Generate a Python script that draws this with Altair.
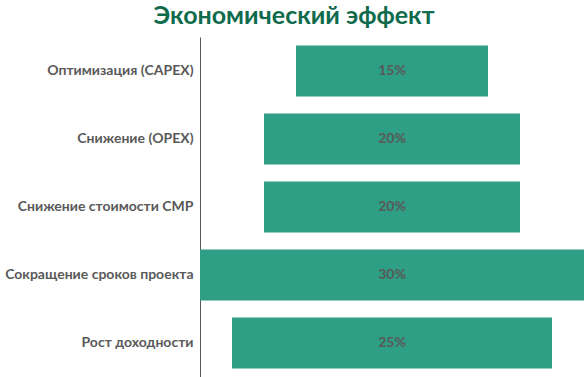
import altair as alt
import pandas as pd

categories = ["Оптимизация (CAPEX)", "Снижение (OPEX)", "Снижение стоимости СМР",
              "Сокращение сроков проекта", "Рост доходности"]
values = [15, 20, 20, 30, 25]

df = pd.DataFrame({"cat": categories, "v": values})
df["lo"] = -df["v"] / 2
df["hi"] = df["v"] / 2
df["label"] = df["v"].astype(str) + "%"

FONT = "Lato"
y_enc = alt.Y("cat:N", sort=categories, title=None,
              scale=alt.Scale(paddingInner=0.25, paddingOuter=0.125),
              axis=alt.Axis(ticks=False, labelPadding=7, labelFont=FONT, labelFontSize=14,
                            labelFontWeight="bold", labelColor="#595959",
                            domainColor="#595959", domainWidth=1, labelLimit=250))

bars = alt.Chart(df).mark_bar(color="#2E9E84").encode(
    x=alt.X("lo:Q", scale=alt.Scale(domain=[-15, 15]), axis=None),
    x2="hi:Q",
    y=y_enc,
)
text = alt.Chart(df).mark_text(font=FONT, fontSize=14, fontWeight="bold", color="#595959").encode(
    x=alt.X("zero:Q", scale=alt.Scale(domain=[-15, 15]), axis=None),
    y=alt.Y("cat:N", sort=categories),
    text="label:N",
).transform_calculate(zero="0")

chart = alt.layer(bars, text).properties(
    width=384, height=340,
    autosize=alt.AutoSizeParams(type="none"),
    padding={"left": 200, "top": 37, "right": 4, "bottom": 0},
    title=alt.Title("Экономический эффект", font=FONT, fontSize=25, fontWeight="bold",
                    color="#0F6B4B", offset=8, dx=-98, anchor="middle"),
).configure_view(stroke=None)

chart.save("out.html", embed_options={"renderer": "svg", "actions": False})
